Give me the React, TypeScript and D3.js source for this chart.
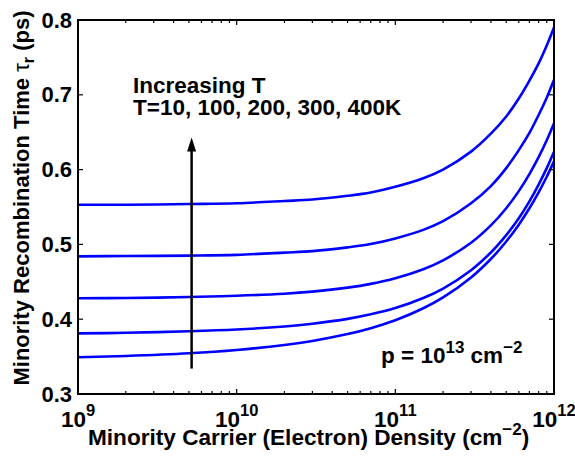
import React from "react";
import * as d3 from "d3";

// Minority carrier (electron) density, cm^-2
const densities = [1e9, 2e9, 5e9, 1e10, 2e10, 3e10, 5e10, 7e10, 1e11, 1.5e11, 2e11, 3e11, 4e11, 5e11, 6e11, 7e11, 8e11, 9e11, 1e12];
// Minority recombination time (ps) for each temperature
const tau10K = [0.3491, 0.3509, 0.3545, 0.3589, 0.3655, 0.3709, 0.3801, 0.388, 0.3986, 0.4146, 0.4291, 0.4558, 0.4805, 0.5039, 0.5264, 0.5483, 0.5696, 0.5905, 0.611];
const tau100K = [0.381, 0.3818, 0.3838, 0.3862, 0.3903, 0.394, 0.4004, 0.4065, 0.4149, 0.4283, 0.441, 0.4655, 0.4892, 0.5124, 0.5351, 0.5576, 0.5799, 0.602, 0.624];
const tau200K = [0.428, 0.4284, 0.4296, 0.4313, 0.4341, 0.4369, 0.4422, 0.4472, 0.4547, 0.4668, 0.4787, 0.5022, 0.5254, 0.5484, 0.5712, 0.594, 0.6166, 0.6392, 0.662];
const tau300K = [0.484, 0.4845, 0.485, 0.486, 0.489, 0.491, 0.496, 0.5005, 0.508, 0.5194, 0.531, 0.555, 0.578, 0.602, 0.626, 0.649, 0.673, 0.696, 0.720];
const tau400K = [0.553, 0.553, 0.554, 0.555, 0.558, 0.560, 0.565, 0.5694, 0.577, 0.5884, 0.600, 0.624, 0.648, 0.671, 0.695, 0.719, 0.742, 0.766, 0.790];
const seriesList = [tau10K, tau100K, tau200K, tau300K, tau400K];

const xMajorTicks = [1e9, 1e10, 1e11, 1e12];
const xTickExponents = ["9", "10", "11", "12"];
const yTicks = [0.3, 0.4, 0.5, 0.6, 0.7, 0.8];
const yTickLabels = ["0.3", "0.4", "0.5", "0.6", "0.7", "0.8"];
const arrowDensity = 5.2e9;
const arrowRange = [0.334, 0.643];

const FONT = "'Liberation Sans', Arial, Helvetica, sans-serif";

export default function App() {
  const W = 575, H = 456;
  const L = 78, R = 554, T = 20, B = 394;
  const x = d3.scaleLog().domain([1e9, 1e12]).range([L, R]);
  const y = d3.scaleLinear().domain([0.3, 0.8]).range([B, T]);
  const line = d3
    .line<number>()
    .x((_, i) => x(densities[i]))
    .y((d) => y(d))
    .curve(d3.curveCatmullRom.alpha(0.5));

  const minorTicks: number[] = [];
  for (let e = 9; e < 12; e++) for (let m = 2; m <= 9; m++) minorTicks.push(m * Math.pow(10, e));

  const ax = x(arrowDensity);
  const ay0 = y(arrowRange[0]);
  const ay1 = y(arrowRange[1]);

  return (
    <svg width={W} height={H} style={{ position: "absolute", left: 0, top: 0, background: "#fff" }} fontFamily={FONT}>
      <rect x={0} y={0} width={W} height={H} fill="#fff" />
      {seriesList.map((s, i) => (
        <path key={i} d={line(s) || ""} fill="none" stroke="#0000ff" strokeWidth={2.6} />
      ))}
      {/* ticks */}
      <g stroke="#000" strokeWidth={1.2}>
        {minorTicks.map((t, i) => (
          <g key={"m" + i}>
            <line x1={x(t)} x2={x(t)} y1={B} y2={B - 3} />
            <line x1={x(t)} x2={x(t)} y1={T} y2={T + 3} />
          </g>
        ))}
        {xMajorTicks.map((t, i) => (
          <g key={"M" + i}>
            <line x1={x(t)} x2={x(t)} y1={B} y2={B - 5} />
            <line x1={x(t)} x2={x(t)} y1={T} y2={T + 5} />
          </g>
        ))}
        {yTicks.map((t, i) => (
          <g key={"y" + i}>
            <line x1={L} x2={L + 5} y1={y(t)} y2={y(t)} />
            <line x1={R} x2={R - 5} y1={y(t)} y2={y(t)} />
          </g>
        ))}
      </g>
      <rect x={L} y={T} width={R - L} height={B - T} fill="none" stroke="#000" strokeWidth={2} />
      {/* tick labels */}
      <g fontWeight="bold" fill="#000">
        {yTicks.map((t, i) => (
          <text key={i} x={L - 6} y={y(t) + 7.5} fontSize={22} textAnchor="end">
            {yTickLabels[i]}
          </text>
        ))}
        {xMajorTicks.map((t, i) => (
          <text key={i} x={x(t)} y={427} fontSize={22.5} textAnchor="middle">
            10
            <tspan dy={-11} fontSize={16.5}>
              {xTickExponents[i]}
            </tspan>
          </text>
        ))}
      </g>
      {/* axis titles */}
      <text x={88} y={445} fontSize={22.6} fontWeight="bold">
        Minority Carrier (Electron) Density (cm
        <tspan dy={-10} fontSize={17}>−2</tspan>
        <tspan dy={10}>)</tspan>
      </text>
      <text transform="translate(29,198) rotate(-90)" fontSize={22} fontWeight="bold" textAnchor="middle">
        Minority Recombination Time <tspan fontWeight="normal">τ</tspan>
        <tspan dy={5} fontSize={16}>r</tspan>
        <tspan dy={-5}> (ps)</tspan>
      </text>
      {/* annotations */}
      <text x={133} y={93} fontSize={22.5} fontWeight="bold">Increasing T</text>
      <text x={133} y={115} fontSize={22.5} fontWeight="bold">T=10, 100, 200, 300, 400K</text>
      <text x={381} y={363} fontSize={22.5} fontWeight="bold">
        p = 10
        <tspan dy={-10} fontSize={17}>13</tspan>
        <tspan dy={10}> cm</tspan>
        <tspan dy={-10} fontSize={17}>−2</tspan>
      </text>
      <line x1={ax} x2={ax} y1={ay0} y2={ay1 + 10} stroke="#000" strokeWidth={2.5} />
      <path d={`M${ax},${ay1} L${ax - 4.5},${ay1 + 14} L${ax + 4.5},${ay1 + 14} Z`} fill="#000" />
    </svg>
  );
}
